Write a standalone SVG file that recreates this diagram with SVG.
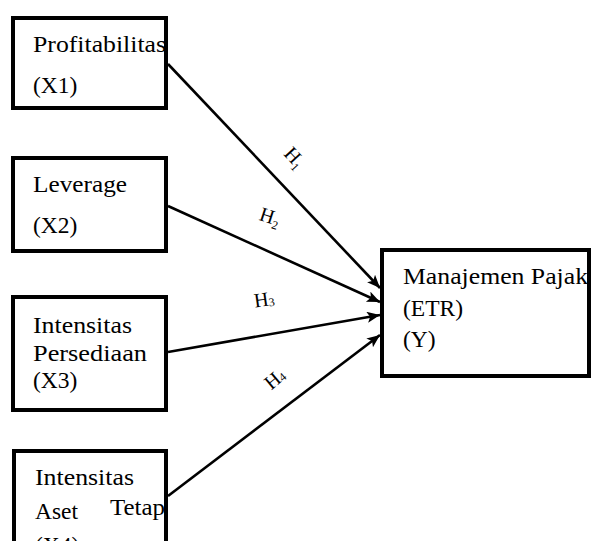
<svg xmlns="http://www.w3.org/2000/svg" width="592" height="541" viewBox="0 0 592 541">
<defs>
<style>
.box{fill:#fff;stroke:#000;stroke-width:4}
.t{font-family:"Liberation Serif","Times New Roman",serif;font-size:23.5px;fill:#000}
.h{font-family:"Liberation Serif","Times New Roman",serif;font-size:20px;fill:#000}
.sub{font-size:12px}
.conn{stroke:#000;stroke-width:2.6;fill:none;marker-end:url(#ah)}
</style>
<marker id="ah" markerUnits="userSpaceOnUse" markerWidth="14" markerHeight="12" refX="13" refY="5.5" orient="auto">
<path d="M0,0 L13,5.5 L0,11 L3,5.5 z" fill="#000"/>
</marker>
</defs>
<rect width="592" height="541" fill="#fff"/>
<g id="connectors">
<line class="conn" x1="168" y1="64" x2="380" y2="288"/>
<line class="conn" x1="168" y1="206" x2="380" y2="302"/>
<line class="conn" x1="168" y1="352" x2="380" y2="315"/>
<line class="conn" x1="168" y1="496" x2="380" y2="335"/>
<text class="h" text-anchor="middle" transform="translate(290,162) rotate(47)">H<tspan class="sub" dy="4">1</tspan></text>
<text class="h" text-anchor="middle" transform="translate(268,223) rotate(18)">H<tspan class="sub" dy="4">2</tspan></text>
<text class="h" text-anchor="middle" transform="translate(265,306) rotate(-8)">H<tspan class="sub" dy="1">3</tspan></text>
<text class="h" text-anchor="middle" transform="translate(279,384) rotate(-40)">H<tspan class="sub" dy="1">4</tspan></text>
</g>
<g id="x1">
<rect class="box" x="13" y="18" width="153" height="90"/>
<text class="t" x="33" y="52" textLength="133" lengthAdjust="spacingAndGlyphs">Profitabilitas</text>
<text class="t" x="33" y="93">(X1)</text>
</g>
<g id="x2">
<rect class="box" x="13" y="158" width="153" height="93"/>
<text class="t" x="33" y="192" textLength="94" lengthAdjust="spacingAndGlyphs">Leverage</text>
<text class="t" x="33" y="233">(X2)</text>
</g>
<g id="x3">
<rect class="box" x="13" y="297" width="153" height="113"/>
<text class="t" x="33" y="333" textLength="99" lengthAdjust="spacingAndGlyphs">Intensitas</text>
<text class="t" x="33" y="361" textLength="114" lengthAdjust="spacingAndGlyphs">Persediaan</text>
<text class="t" x="33" y="388">(X3)</text>
</g>
<g id="x4">
<rect class="box" x="14" y="451" width="152" height="120"/>
<text class="t" x="35" y="485" textLength="99" lengthAdjust="spacingAndGlyphs">Intensitas</text>
<text class="t" x="35" y="519">Aset</text>
<text class="t" x="110" y="515" textLength="55" lengthAdjust="spacingAndGlyphs">Tetap</text>
<text class="t" x="35" y="553">(X4)</text>
</g>
<g id="y">
<rect class="box" x="382" y="250" width="207" height="126"/>
<text class="t" x="403" y="284" textLength="185" lengthAdjust="spacingAndGlyphs">Manajemen Pajak</text>
<text class="t" x="403" y="316">(ETR)</text>
<text class="t" x="403" y="347">(Y)</text>
</g>
</svg>
